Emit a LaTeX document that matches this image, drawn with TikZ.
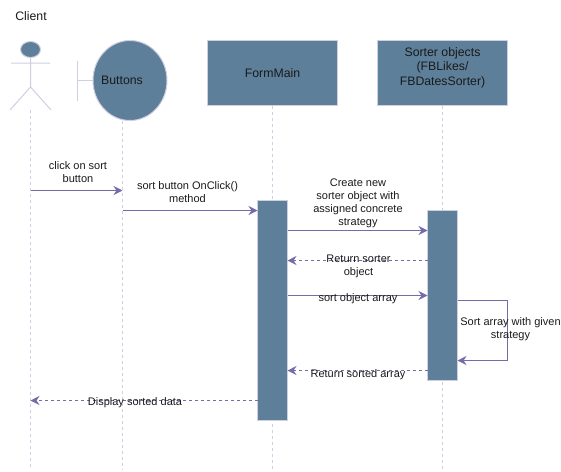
\documentclass[tikz,border=0pt]{standalone}
\usepackage{fontspec}
\setmainfont{Liberation Sans}
\usetikzlibrary{arrows.meta,shapes.geometric}
\definecolor{boxfill}{HTML}{5D7F99}
\definecolor{boxline}{HTML}{D0CEE2}
\definecolor{msgline}{HTML}{736CA8}
\definecolor{txtcol}{HTML}{1A1A1A}
\begin{document}
\begin{tikzpicture}[x=1pt, y=-1pt, line width=1pt,
    box/.style={rectangle, draw=boxline, fill=boxfill, text=txtcol, inner sep=0pt, align=center,
        font=\fontsize{12.3}{14.5}\selectfont, minimum width=130pt, minimum height=65pt},
    bar/.style={rectangle, draw=boxline, fill=boxfill, inner sep=0pt, minimum width=30pt},
    lifeline/.style={draw=boxline, dash pattern=on 3pt off 3pt},
    msg/.style={draw=msgline, -{Stealth[length=9pt, width=9pt, inset=3pt]}},
    reply/.style={msg, dash pattern=on 3pt off 3pt},
    lbl/.style={text=txtcol, inner sep=0pt, align=center, font=\fontsize{11}{13}\selectfont},
    bigLbl/.style={lbl, font=\fontsize{12.3}{14.5}\selectfont}]
    \useasboundingbox (0,0) rectangle (561,471);

    \node[bigLbl] (client) at (31,16) {Client};

    % actor
    \node[ellipse, draw=boxline, fill=boxfill, inner sep=0pt, minimum width=20pt, minimum height=16pt] (head) at (30.5,49.5) {};
    \coordinate (hip) at (30.5,87);
    \coordinate (foot) at (30.5,110);
    \coordinate (armL) at (11,63);
    \coordinate (armR) at (50,63);
    \coordinate (legL) at (10,110);
    \coordinate (legR) at (51,110);
    \draw[boxline] (head) -- (hip) (armL) -- (armR) (legL) -- (hip) -- (legR);

    % boundary
    \node[ellipse, draw=boxline, fill=boxfill, inner sep=0pt, minimum width=74pt, minimum height=80pt] (buttons) at (130,80.5) {};
    \node[bigLbl] (buttonstxt) at (122,80.5) {Buttons};
    \coordinate (tickT) at (77.5,60.5);
    \coordinate (tickB) at (77.5,100.5);
    \coordinate (tickM) at (77.5,80.5);
    \draw[boxline] (tickT) -- (tickB) (tickM) -- (buttons.west);

    \node[box] (form) at (272.5,73) {FormMain};
    \node[box] (sorter) at (442.5,73) {};
    \node[bigLbl] (sortertxt) at (442.5,67.5) {Sorter objects\\(FBLikes/\\FBDatesSorter)};

    % lifelines
    \coordinate (endA) at (30.5,467);
    \coordinate (topB) at (122.5,120.5);
    \coordinate (endB) at (122.5,470);
    \coordinate (endF) at (272.5,470);
    \coordinate (endS) at (442.5,470);
    \draw[lifeline] (foot) -- (endA);
    \draw[lifeline] (topB) -- (endB);
    \draw[lifeline] (form.south) -- (endF);
    \draw[lifeline] (sorter.south) -- (endS);

    \node[bar, minimum height=220pt] (formbar) at (272.5,310.5) {};
    \node[bar, minimum height=170pt] (sorterbar) at (442.5,295.5) {};

    % messages
    \coordinate (m1a) at (30.5,190.5);
    \coordinate (m1b) at (122.5,190.5);
    \coordinate (m2a) at (122.5,210.5);
    \coordinate (m2b) at (257.5,210.5);
    \coordinate (m3a) at (287.5,230.5);
    \coordinate (m3b) at (427.5,230.5);
    \coordinate (m4a) at (427.5,260.5);
    \coordinate (m4b) at (287.5,260.5);
    \coordinate (m5a) at (287.5,295.5);
    \coordinate (m5b) at (427.5,295.5);
    \coordinate (m6a) at (457.5,300.5);
    \coordinate (m6b) at (507.5,300.5);
    \coordinate (m6c) at (507.5,360.5);
    \coordinate (m6d) at (457.5,360.5);
    \coordinate (m7a) at (427.5,370.5);
    \coordinate (m7b) at (287.5,370.5);
    \coordinate (m8a) at (257.5,400.5);
    \coordinate (m8b) at (30.5,400.5);
    \draw[msg] (m1a) -- (m1b);
    \draw[msg] (m2a) -- (m2b);
    \draw[msg] (m3a) -- (m3b);
    \draw[reply] (m4a) -- (m4b);
    \draw[msg] (m5a) -- (m5b);
    \draw[msg] (m6a) -- (m6b) -- (m6c) -- (m6d);
    \draw[reply] (m7a) -- (m7b);
    \draw[reply] (m8a) -- (m8b);

    \node[lbl] (t1) at (78,172) {click on sort\\button};
    \node[lbl] (t2) at (187.5,192.5) {sort button OnClick()\\method};
    \node[lbl] (t3) at (358,203) {Create new\\sorter object with\\assigned concrete\\strategy};
    \node[lbl] (t4) at (358.5,266) {Return sorter\\object};
    \node[lbl] (t5) at (358,299) {sort object array};
    \node[lbl] (t6) at (510.5,329) {Sort array with given\\strategy};
    \node[lbl] (t7) at (358,374.5) {Return sorted array};
    \node[lbl] (t8) at (135,403) {Display sorted data};
\end{tikzpicture}
\end{document}
